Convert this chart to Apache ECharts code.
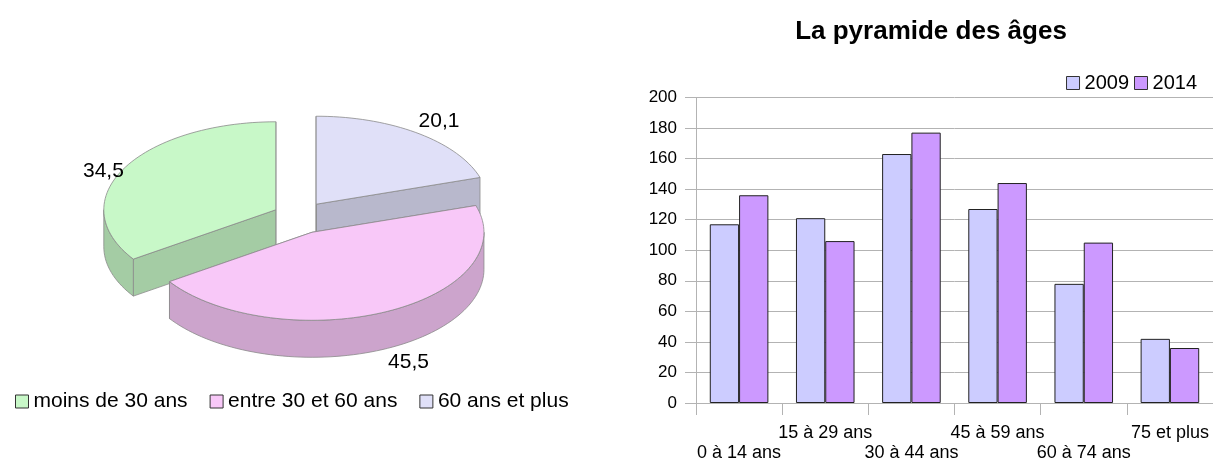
<!DOCTYPE html>
<html>
<head>
<meta charset="utf-8">
<script src="https://cdn.jsdelivr.net/npm/echarts@6/dist/echarts.min.js"></script>
<style>
  html, body { margin: 0; padding: 0; background: #fff; }
  #main { width: 1213px; height: 458px; }
</style>
</head>
<body>
<div id="main"></div>
<script>
var chart = echarts.init(document.getElementById('main'));

// pie data
var slice_names = ['moins de 30 ans', 'entre 30 et 60 ans', '60 ans et plus'];
var slice_values = [34.5, 45.5, 20.1];
var slice_top = ['#c8f8c8', '#f8c8f8', '#e0e0f8'];
var slice_side = ['#a4cca4', '#cca4cc', '#b8b8cc'];

// bar data
var categories = ['0 à 14 ans', '15 à 29 ans', '30 à 44 ans', '45 à 59 ans', '60 à 74 ans', '75 et plus'];
var values_2009 = [117, 121, 163, 127, 78, 42];
var values_2014 = [136, 106, 177, 144, 105, 36];

var font = '"Liberation Sans", Arial, sans-serif';

// 3d pie geometry (pixels)
var pie_cx = 300, pie_cy = 217.5;
var pie_rx = 172, pie_ry = 88, pie_depth = 37;
var explode = 27.4, explode_y = 0.6;

var total = slice_values.reduce(function (a, b) { return a + b; }, 0);
var deg = Math.PI / 180;

function slice_angles(i) {
    var cum = 0;
    for (var k = 0; k < i; k++) cum += slice_values[k];
    var a0 = 90 + cum / total * 360;
    var a1 = a0 + slice_values[i] / total * 360;
    return [a0, a1];
}

function renderSlice(i) {
    return function (params, api) {
        var v = api.value(0);
        var ang = slice_angles(i);
        var a0 = ang[0], a1 = ang[1], mid = (a0 + a1) / 2;
        var cx = pie_cx + explode * Math.cos(mid * deg);
        var cy = pie_cy - explode * explode_y * Math.sin(mid * deg);
        function pt(a, dz) {
            return [cx + pie_rx * Math.cos(a * deg), cy - pie_ry * Math.sin(a * deg) + dz];
        }
        function arc(lo, hi, dz) {
            var pts = [];
            var n = Math.max(2, Math.ceil((hi - lo) / 2));
            for (var k = 0; k <= n; k++) pts.push(pt(lo + (hi - lo) * k / n, dz));
            return pts;
        }
        // back slices first
        var rank = -Math.sin(mid * deg);
        var base = Math.round((rank + 1) * 10) * 10;
        var stroke = { stroke: '#8a8a8a', lineWidth: 0.8 };
        var children = [];
        // radial faces
        [a0, a1].forEach(function (a) {
            var e = pt(a, 0), eb = pt(a, pie_depth);
            children.push({
                type: 'polygon', z2: base,
                shape: { points: [[cx, cy], e, eb, [cx, cy + pie_depth]] },
                style: Object.assign({ fill: slice_side[i] }, stroke)
            });
        });
        // outer wall, front part only
        for (var k = 0; k < 2; k++) {
            var lo = Math.max(a0, 180 + 360 * k), hi = Math.min(a1, 360 + 360 * k);
            if (hi > lo) {
                var pts = arc(lo, hi, 0).concat(arc(lo, hi, pie_depth).reverse());
                children.push({
                    type: 'polygon', z2: base + 1,
                    shape: { points: pts },
                    style: Object.assign({ fill: slice_side[i] }, stroke)
                });
            }
        }
        // top face
        children.push({
            type: 'polygon', z2: base + 2,
            shape: { points: [[cx, cy]].concat(arc(a0, a1, 0)) },
            style: Object.assign({ fill: slice_top[i] }, stroke)
        });
        // value label
        var s = Math.sin(mid * deg), c = Math.cos(mid * deg);
        var lp = pt(mid, s < 0 ? pie_depth : 0);
        children.push({
            type: 'text', z2: 200,
            style: {
                text: String(v).replace('.', ','),
                x: lp[0] + (c < 0 ? 0 : 1),
                y: lp[1] + (s > 0.7 ? -1 : 3),
                align: c < 0 ? 'right' : 'left',
                verticalAlign: s > 0.7 ? 'bottom' : (s < -0.7 ? 'top' : 'middle'),
                fill: '#000',
                font: '21px ' + font
            }
        });
        return { type: 'group', children: children };
    };
}

var pie_series = slice_names.map(function (name, i) {
    return {
        type: 'custom',
        name: name,
        coordinateSystem: 'none',
        itemStyle: { color: slice_top[i] },
        renderItem: renderSlice(i),
        data: [[slice_values[i]]]
    };
});

var option = {
    animation: false,
    title: {
        text: 'La pyramide des âges',
        left: 926,
        textAlign: 'center',
        top: 14,
        textStyle: { fontFamily: font, fontSize: 26, fontWeight: 'bold', color: '#000' }
    },
    legend: [{
        data: slice_names,
        left: 10,
        top: 386,
        icon: 'rect',
        itemWidth: 13,
        itemHeight: 13,
        itemGap: 22,
        itemStyle: { borderColor: '#333', borderWidth: 1 },
        textStyle: { fontFamily: font, fontSize: 21, color: '#000' }
    }, {
        data: ['2009', '2014'],
        right: 11,
        top: 68,
        icon: 'rect',
        itemWidth: 13,
        itemHeight: 13,
        itemGap: 5,
        itemStyle: { borderColor: '#333', borderWidth: 1 },
        textStyle: { fontFamily: font, fontSize: 20, color: '#000' }
    }],
    grid: {
        left: 696,
        right: 0,
        top: 97.5,
        bottom: 55,
        outerBoundsMode: 'none'
    },
    xAxis: {
        type: 'category',
        data: categories,
        axisLine: { show: true, lineStyle: { color: '#b3b3b3' } },
        axisTick: { show: true, length: 12, interval: 0, lineStyle: { color: '#b3b3b3' } },
        axisLabel: {
            interval: 0,
            margin: 20,
            lineHeight: 20,
            fontFamily: font,
            fontSize: 18,
            color: '#000',
            formatter: function (v, idx) { return idx % 2 === 0 ? '\n' + v : v; }
        }
    },
    yAxis: {
        type: 'value',
        min: 0,
        max: 200,
        interval: 20,
        axisLine: { show: true, lineStyle: { color: '#b3b3b3' } },
        axisTick: { show: true, length: 11, lineStyle: { color: '#b3b3b3' } },
        axisLabel: { margin: 19, fontFamily: font, fontSize: 17, color: '#000' },
        splitLine: { show: true, lineStyle: { color: '#b3b3b3' } }
    },
    series: pie_series.concat([{
        type: 'bar',
        name: '2009',
        data: values_2009,
        barGap: '0%',
        barCategoryGap: '32%',
        itemStyle: { color: '#ccccff', borderColor: '#222', borderWidth: 1 }
    }, {
        type: 'bar',
        name: '2014',
        data: values_2014,
        itemStyle: { color: '#cc99ff', borderColor: '#222', borderWidth: 1 }
    }])
};

chart.setOption(option);
</script>
</body>
</html>
